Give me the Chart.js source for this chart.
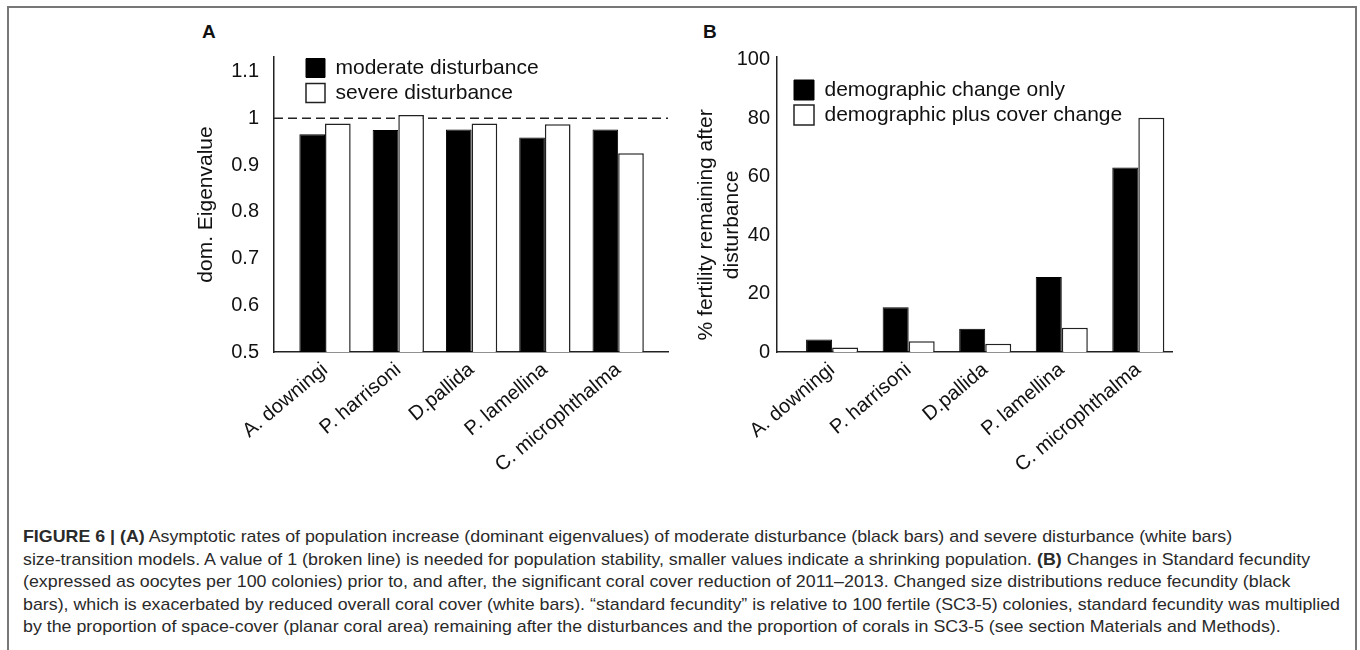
<!DOCTYPE html>
<html>
<head>
<meta charset="utf-8">
<script src="https://cdn.jsdelivr.net/npm/chart.js@4.4.1/dist/chart.umd.min.js"></script>
<style>
  body { margin: 0; width: 1360px; height: 650px; background: #fff; overflow: hidden; position: relative;
         font-family: "Liberation Sans", Arial, sans-serif; }
  #frame { position: absolute; left: 7px; top: 6px; width: 1346px; height: 700px; border: 2px solid #777; }
  .letter { position: absolute; top: 22px; font-size: 19px; font-weight: bold; line-height: 1; color: #111; }
  canvas { position: absolute; top: 0; }
  #caption { position: absolute; left: 23px; top: 526px; transform-origin: 0 0; color: #2a2a2a;
             font-family: "Liberation Sans", Arial, sans-serif;
             font-size: 17px; line-height: 22.5px; }
  #caption div { white-space: nowrap; width: max-content; }
</style>
</head>
<body>
<div id="frame"></div>
<div class="letter" style="left:202px">A</div>
<div class="letter" style="left:703px">B</div>
<canvas id="chartA" width="510" height="500" style="left:170px"></canvas>
<canvas id="chartB" width="500" height="500" style="left:690px"></canvas>
<div id="caption">
  <div><b>FIGURE 6 | (A)</b> Asymptotic rates of population increase (dominant eigenvalues) of moderate disturbance (black bars) and severe disturbance (white bars)</div>
  <div>size-transition models. A value of 1 (broken line) is needed for population stability, smaller values indicate a shrinking population. <b>(B)</b> Changes in Standard fecundity</div>
  <div>(expressed as oocytes per 100 colonies) prior to, and after, the significant coral cover reduction of 2011–2013. Changed size distributions reduce fecundity (black</div>
  <div>bars), which is exacerbated by reduced overall coral cover (white bars). “standard fecundity” is relative to 100 fertile (SC3-5) colonies, standard fecundity was multiplied</div>
  <div>by the proportion of space-cover (planar coral area) remaining after the disturbances and the proportion of corals in SC3-5 (see section Materials and Methods).</div>
</div>
<script>
// data
const species = ['A. downingi', 'P. harrisoni', 'D.pallida', 'P. lamellina', 'C. microphthalma'];
const moderate = [0.966, 0.975, 0.976, 0.959, 0.976];
const severe = [0.989, 1.007, 0.989, 0.987, 0.925];
const demoOnly = [4.3, 15.3, 8.0, 25.7, 63.2];
const demoCover = [1.5, 3.7, 2.8, 8.3, 80.2];
const eigenTicks = [0.5, 0.6, 0.7, 0.8, 0.9, 1, 1.1];
const fertTicks = [0, 20, 40, 60, 80, 100];
const stability = 1;

Chart.defaults.font.family = '"Liberation Sans", Arial, sans-serif';
Chart.defaults.color = '#111';
Chart.defaults.animation = false;

const toPoints = vals => vals.map((v, i) => ({ x: i, y: v }));

// move the legend inside the plot area
const legendShift = {
  id: 'legendShift',
  afterLayout(chart, args, opts) {
    const lg = chart.legend;
    if (!lg) return;
    lg.left = chart.chartArea.left + opts.x;
    lg.top = chart.chartArea.top + opts.y;
  }
};

// broken reference line
const refLine = {
  id: 'refLine',
  beforeDatasetsDraw(chart, args, opts) {
    if (opts.value === undefined) return;
    const { ctx, chartArea } = chart;
    const y = chart.scales.y.getPixelForValue(opts.value);
    ctx.save();
    ctx.strokeStyle = '#222';
    ctx.lineWidth = 1.5;
    ctx.setLineDash([9, 5]);
    ctx.beginPath();
    ctx.moveTo(chartArea.left, y);
    ctx.lineTo(chartArea.right, y);
    ctx.stroke();
    ctx.restore();
  }
};

function panel(id, cfg) {
  return new Chart(document.getElementById(id), {
    type: 'bar',
    data: {
      datasets: [
        { label: cfg.labels[0], data: toPoints(cfg.black), backgroundColor: '#000', borderColor: '#000', borderWidth: 1 },
        { label: cfg.labels[1], data: toPoints(cfg.white), backgroundColor: '#fff', borderColor: '#222', borderWidth: 1.5 }
      ]
    },
    options: {
      responsive: false,
      layout: { padding: { top: 57, right: cfg.right, left: 0, bottom: 0 } },
      datasets: { bar: { barPercentage: 1, categoryPercentage: cfg.barFrac } },
      scales: {
        x: {
          type: 'linear', min: cfg.xmin, max: cfg.xmax, offset: false,
          grid: { display: false, drawTicks: false },
          border: { display: true, color: '#222', width: 1.5 },
          afterBuildTicks: s => { s.ticks = species.map((_, i) => ({ value: i })); },
          afterFit: s => { s.height = 148; },
          ticks: { autoSkip: false, minRotation: 40, maxRotation: 40, padding: 6, font: { size: 20 },
                   callback: v => species[v] }
        },
        y: {
          min: cfg.ymin, max: cfg.ymax,
          grid: { display: false, drawTicks: false },
          border: { display: true, color: '#222', width: 1.5 },
          afterBuildTicks: s => { s.ticks = cfg.ticks.map(v => ({ value: v })); },
          afterFit: s => { s.width = cfg.yWidth; },
          ticks: { padding: cfg.tickPad, font: { size: 20 }, callback: v => v },
          title: { display: true, text: cfg.title, font: { size: 21 }, color: '#111',
                   padding: { top: cfg.titlePad, bottom: 0 } }
        }
      },
      plugins: {
        legend: { position: 'chartArea', align: 'start',
                  labels: { boxWidth: cfg.box, boxHeight: cfg.box, padding: 4, font: { size: 21 }, color: '#111' } },
        legendShift: { x: cfg.legX, y: cfg.legY },
        refLine: { value: cfg.ref },
        tooltip: { enabled: false }
      }
    },
    plugins: [legendShift, refLine]
  });
}

panel('chartA', {
  labels: ['moderate disturbance', 'severe disturbance'],
  black: moderate, white: severe,
  xmin: -0.696, xmax: 4.68, barFrac: 0.70,
  ymin: 0.5, ymax: 1.131, ticks: eigenTicks,
  yWidth: 104, tickPad: 15, title: 'dom. Eigenvalue', titlePad: 24,
  box: 19, legX: 28, legY: -3.5, right: 12, ref: stability
});

panel('chartB', {
  labels: ['demographic change only', 'demographic plus cover change'],
  black: demoOnly, white: demoCover,
  xmin: -0.72, xmax: 4.44, barFrac: 0.68,
  ymin: 0, ymax: 101, ticks: fertTicks,
  yWidth: 87, tickPad: 7, title: ['% fertility remaining after       ', 'disturbance       '], titlePad: 4,
  box: 20, legX: 13, legY: 18.5, right: 18
});

// fit caption width to the reference
const cap = document.getElementById('caption');
const w4 = cap.children[3].getBoundingClientRect().width;
cap.style.transform = 'scaleX(' + (1317 / w4) + ')';
</script>
</body>
</html>
